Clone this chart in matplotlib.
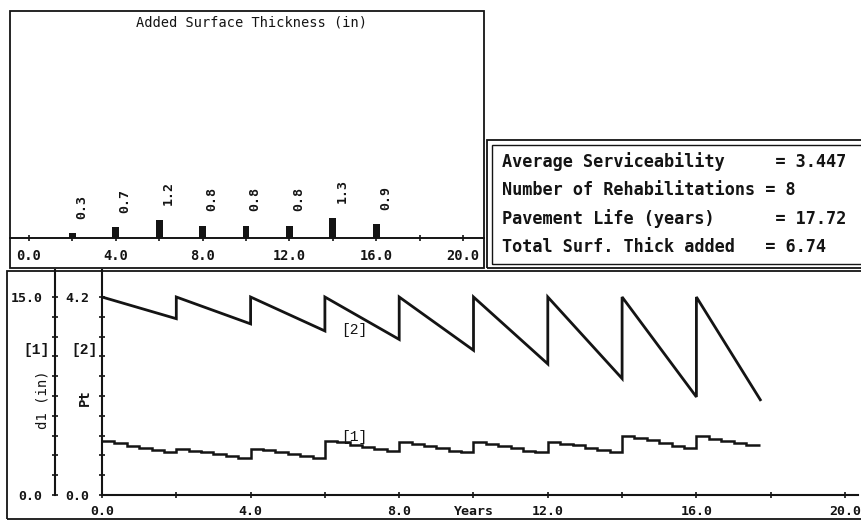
import matplotlib
matplotlib.use("Agg")
import matplotlib.pyplot as plt
from matplotlib.patches import Rectangle
from matplotlib.ticker import FixedLocator, MultipleLocator

# ---------------- data ----------------
rehab_years = [2, 4, 6, 8, 10, 12, 14, 16]
added_thickness = [0.3, 0.7, 1.2, 0.8, 0.8, 0.8, 1.3, 0.9]
pavement_life = 17.72

# serviceability Pt: value right after each (re)start and value at end of each period
pt_start = [4.2, 4.2, 4.2, 4.2, 4.2, 4.2, 4.2, 4.2, 4.2]
pt_end = [3.74, 3.63, 3.48, 3.30, 3.07, 2.78, 2.47, 2.08, 2.02]

# surface thickness d1 (in): staircase levels in each period (steps of 1/3 year)
d1_step = 1.0 / 3.0
d1_levels = [
    [4.06, 3.94, 3.73, 3.56, 3.43, 3.22],
    [3.48, 3.37, 3.25, 3.12, 2.99, 2.84],
    [3.50, 3.38, 3.25, 3.12, 2.99, 2.84],
    [4.06, 3.98, 3.81, 3.63, 3.48, 3.30],
    [3.98, 3.88, 3.73, 3.56, 3.37, 3.22],
    [3.98, 3.86, 3.68, 3.53, 3.37, 3.22],
    [3.98, 3.90, 3.81, 3.56, 3.43, 3.25],
    [4.49, 4.32, 4.14, 3.94, 3.73, 3.56],
    [4.44, 4.26, 4.11, 3.94, 3.75],
]

top_xticks = [0, 4, 8, 12, 16, 20]
top_xticklabels = ["0.0", "4.0", "8.0", "12.0", "16.0", "20.0"]
bot_xticks = [0, 4, 8, 10, 12, 16, 20]
bot_xticklabels = ["0.0", "4.0", "8.0", "Years", "12.0", "16.0", "20.0"]

info_lines = [
    "Average Serviceability     = 3.447",
    "Number of Rehabilitations = 8",
    "Pavement Life (years)      = 17.72",
    "Total Surf. Thick added   = 6.74",
]

# ---------------- layout helpers ----------------
W, H = 862, 520
INK = "#141414"
MONO = "DejaVu Sans Mono"


def fx(px):
    return px / W


def fy(py):
    return 1 - py / H


def box(x0, y0, x1, y1, lw=1.3):
    fig.add_artist(Rectangle((fx(x0), fy(y1)), fx(x1) - fx(x0), fy(y0) - fy(y1),
                             transform=fig.transFigure, fill=False,
                             edgecolor=INK, lw=lw, clip_on=False))


fig = plt.figure(figsize=(W / 100, H / 100), dpi=100)
fig.patch.set_facecolor("white")

# ---------------- top panel: added thickness bars ----------------
axt = fig.add_axes([fx(10), fy(268), fx(484) - fx(10), fy(11) - fy(268)])
axt.patch.set_alpha(0)
px_per_year_t = (463 - 29) / 20.0
axt.set_xlim(-(29 - 10) / px_per_year_t, 20 + (484 - 463) / px_per_year_t)
px_per_in = 15.4
axt.set_ylim(-(268 - 238) / px_per_in, (238 - 11) / px_per_in)
axt.bar(rehab_years, added_thickness, width=0.32, color=INK, align="center")
for x, v in zip(rehab_years, added_thickness):
    axt.text(x + 0.42, v + 0.95, f"{v:.1f}", rotation=90, ha="center", va="bottom",
             family=MONO, fontsize=9.5, fontweight="bold", color=INK)
for s in ["top", "left", "right"]:
    axt.spines[s].set_visible(False)
axt.spines["bottom"].set_position(("data", 0))
axt.spines["bottom"].set_linewidth(1.4)
axt.spines["bottom"].set_color(INK)
axt.set_yticks([])
axt.xaxis.set_major_locator(FixedLocator(top_xticks))
axt.set_xticklabels(top_xticklabels)
axt.xaxis.set_minor_locator(MultipleLocator(2))
axt.tick_params(axis="x", which="both", direction="inout", length=4, width=1.2,
                color=INK, pad=6)
for lab in axt.get_xticklabels():
    lab.set_family(MONO)
    lab.set_fontsize(9.8)
    lab.set_fontweight("bold")
    lab.set_color(INK)
fig.text(fx(252), fy(22), "Added Surface Thickness (in)", ha="center", va="center",
         family=MONO, fontsize=9.8, color=INK)

# ---------------- bottom panel: Pt and d1 ----------------
ax = fig.add_axes([fx(102), fy(495), fx(858) - fx(102), fy(270) - fy(495)])
ax.patch.set_alpha(0)
px_per_year = (845 - 102) / 20.0
ax.set_xlim(0, (858 - 102) / px_per_year)
px_per_pt = (495 - 297) / 4.2
ax.set_ylim(0, (495 - 270) / px_per_pt)

edges = [0] + rehab_years + [pavement_life]
pt_x, pt_y = [], []
for i in range(len(pt_start)):
    pt_x += [edges[i], edges[i + 1]]
    pt_y += [pt_start[i], pt_end[i]]
ax.plot(pt_x, pt_y, color=INK, lw=2.0, solid_joinstyle="miter")

ax2 = ax.twinx()
px_per_d1 = (495 - 297) / 15.0
ax2.set_ylim(0, (495 - 270) / px_per_d1)
d1_edges, d1_vals = [], []
for i, levels in enumerate(d1_levels):
    for j, v in enumerate(levels):
        d1_edges.append(edges[i] + j * d1_step)
        d1_vals.append(v)
d1_edges.append(pavement_life)
ax2.stairs(d1_vals, d1_edges, baseline=None, color=INK, lw=1.8)

for s in ["top", "right"]:
    ax.spines[s].set_visible(False)
    ax2.spines[s].set_visible(False)
ax2.spines["bottom"].set_visible(False)
ax2.spines["left"].set_visible(True)
ax2.spines["left"].set_position(("outward", (102 - 55) * 0.72))
ax2.yaxis.set_ticks_position("left")
ax2.yaxis.set_label_position("left")
for sp in [ax.spines["left"], ax.spines["bottom"], ax2.spines["left"]]:
    sp.set_linewidth(1.5)
    sp.set_color(INK)

ax.yaxis.set_major_locator(FixedLocator([0, 4.2]))
ax.set_yticklabels(["0.0", "4.2"])
ax.yaxis.set_minor_locator(FixedLocator([0.42 * k for k in range(1, 10)]))
ax2.yaxis.set_major_locator(FixedLocator([0, 15]))
ax2.set_yticklabels(["0.0", "15.0"])
ax2.yaxis.set_minor_locator(FixedLocator([1.5 * k for k in range(1, 10)]))
ax.xaxis.set_major_locator(FixedLocator(bot_xticks))
ax.set_xticklabels(bot_xticklabels)
ax.xaxis.set_minor_locator(FixedLocator([2, 6, 14, 18]))

for a in (ax, ax2):
    a.tick_params(which="both", direction="inout", length=4, width=1.2, color=INK)
ax.tick_params(axis="y", pad=7)
ax2.tick_params(axis="y", pad=7)
ax.tick_params(axis="x", pad=5)
for lab in ax.get_xticklabels() + ax.get_yticklabels() + ax2.get_yticklabels():
    lab.set_family(MONO)
    lab.set_fontsize(9.5)
    lab.set_fontweight("bold")
    lab.set_color(INK)

# curve labels
ax.text(6.8, 3.51, "[2]", ha="center", va="center", family="Liberation Mono",
        fontsize=10.5, color=INK)
ax2.text(6.8, 4.42, "[1]", ha="center", va="center", family="Liberation Mono",
         fontsize=10.5, color=INK)

# axis titles / legend keys on the left
fig.text(fx(37), fy(350), "[1]", ha="center", va="center", family="Liberation Mono",
         fontsize=10.5, fontweight="bold", color=INK)
fig.text(fx(85), fy(350), "[2]", ha="center", va="center", family="Liberation Mono",
         fontsize=10.5, fontweight="bold", color=INK)
fig.text(fx(43), fy(400), "d1 (in)", ha="center", va="center", rotation=90,
         family=MONO, fontsize=10, color=INK)
fig.text(fx(85), fy(398), "Pt", ha="center", va="center", rotation=90,
         family=MONO, fontsize=10, fontweight="bold", color=INK)

# ---------------- info box ----------------
for i, line in enumerate(info_lines):
    fig.text(fx(502), fy(162 + i * 28.3), line, ha="left", va="center",
             family=MONO, fontsize=12.2, fontweight="bold", color=INK)

# ---------------- frames ----------------
box(10, 11, 484, 268)
box(487, 140, 875, 268)
box(492, 145, 875, 264, lw=1.0)
box(7, 271, 875, 519)

fig.savefig("out.png", dpi=100, facecolor="white")
